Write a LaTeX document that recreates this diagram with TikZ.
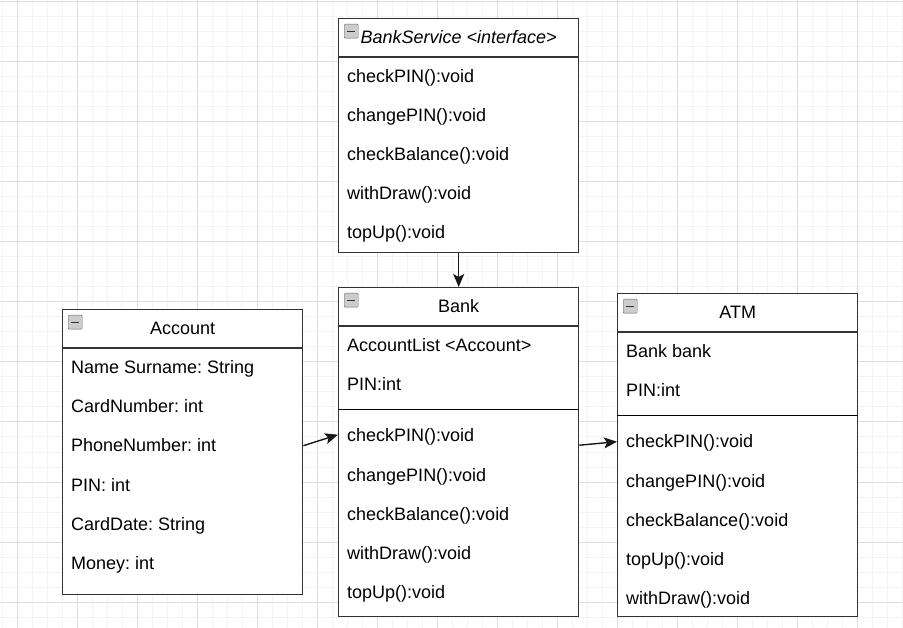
\documentclass[tikz,border=0pt]{standalone}
\usepackage{fontspec}
\setmainfont{Liberation Sans}
\usetikzlibrary{arrows.meta,calc}
\frenchspacing
\definecolor{boxc}{HTML}{333333}
\definecolor{gmaj}{HTML}{DEDEDE}
\definecolor{gmin}{HTML}{F4F4F4}
\tikzset{
 classbox/.style={draw=boxc, line width=1.4pt, fill=white, inner sep=0pt, anchor=north west},
 hdrline/.style={draw=boxc, line width=1.4pt},
 sepline/.style={draw=black, line width=1pt},
 rowtxt/.style={anchor=west, inner sep=0pt, text height=16.8pt, text depth=3.8pt, font=\fontsize{18}{21}\selectfont},
 titletxt/.style={inner sep=0pt, text height=16.8pt, text depth=3.8pt, font=\fontsize{18}{21}\selectfont},
 collapseicon/.style={draw=gray!80!black, fill=gray!40, rounded corners=1pt, minimum size=14pt, inner sep=0pt, anchor=north west},
 arr/.style={draw=black!90, line width=1.4pt, -{Stealth[length=13pt,width=11pt,inset=3pt]}},
 gridminor/.style={draw=gmin, line width=1pt},
 gridmajor/.style={draw=gmaj, line width=1pt},
}
\begin{document}
\begin{tikzpicture}[x=1pt,y=-1pt]
\useasboundingbox (0,0) rectangle (903,628);
\fill[white] (0,0) rectangle (903,628);
% grid
\foreach \v in {2,17,...,902} \draw[gridminor] (\v,0) -- (\v,628);
\foreach \v in {2,17,...,627} \draw[gridminor] (0,\v) -- (903,\v);
\foreach \v in {17,77,...,902} \draw[gridmajor] (\v,0) -- (\v,628);
\foreach \v in {2,62,...,627} \draw[gridmajor] (0,\v) -- (903,\v);

% ---------- BankService ----------
\node[classbox, minimum width=240pt, minimum height=234pt] (bs) at (338,18) {};
\draw[hdrline] ($(bs.north west)+(0,39)$) -- ($(bs.north east)+(0,39)$);
\node[collapseicon] (bsicon) at ($(bs.north west)+(6,6)$) {};
\draw[black!80, line width=1.3pt] ($(bsicon.west)+(3,0)$) -- ($(bsicon.east)+(-3,0)$);
\node[titletxt, font=\fontsize{18}{21}\selectfont\itshape] (bstitle) at ($(bs.north)+(0,19.5)$) {BankService <interface>};
\node[rowtxt] (bs1) at (347,76.5) {checkPIN():void};
\node[rowtxt] (bs2) at (347,115.5) {changePIN():void};
\node[rowtxt] (bs3) at (347,154.5) {checkBalance():void};
\node[rowtxt] (bs4) at (347,193.5) {withDraw():void};
\node[rowtxt] (bs5) at (347,232.5) {topUp():void};

% ---------- Account ----------
\node[classbox, minimum width=240pt, minimum height=285pt] (acc) at (62,309) {};
\draw[hdrline] ($(acc.north west)+(0,39)$) -- ($(acc.north east)+(0,39)$);
\node[collapseicon] (accicon) at ($(acc.north west)+(6,6)$) {};
\draw[black!80, line width=1.3pt] ($(accicon.west)+(3,0)$) -- ($(accicon.east)+(-3,0)$);
\node[titletxt] (acctitle) at ($(acc.north)+(0,19.5)$) {Account};
\node[rowtxt] (acc1) at (71,367.5) {Name Surname: String};
\node[rowtxt] (acc2) at (71,406.5) {CardNumber: int};
\node[rowtxt] (acc3) at (71,445.5) {PhoneNumber: int};
\node[rowtxt] (acc4) at (71,484.5) {PIN: int};
\node[rowtxt] (acc5) at (71,523.5) {CardDate: String};
\node[rowtxt] (acc6) at (71,562.5) {Money: int};

% ---------- Bank ----------
\node[classbox, minimum width=240pt, minimum height=329pt] (bank) at (338,287) {};
\draw[hdrline] ($(bank.north west)+(0,39)$) -- ($(bank.north east)+(0,39)$);
\node[collapseicon] (bankicon) at ($(bank.north west)+(6,6)$) {};
\draw[black!80, line width=1.3pt] ($(bankicon.west)+(3,0)$) -- ($(bankicon.east)+(-3,0)$);
\node[titletxt] (banktitle) at ($(bank.north)+(0,19.5)$) {Bank};
\node[rowtxt] (banka1) at (347,345.5) {AccountList <Account>};
\node[rowtxt] (banka2) at (347,384.5) {PIN:int};
\draw[sepline] ($(bank.north west)+(0,123)$) -- ($(bank.north east)+(0,123)$);
\node[rowtxt] (bankm1) at (347,435.5) {checkPIN():void};
\node[rowtxt] (bankm2) at (347,474.5) {changePIN():void};
\node[rowtxt] (bankm3) at (347,513.5) {checkBalance():void};
\node[rowtxt] (bankm4) at (347,552.5) {withDraw():void};
\node[rowtxt] (bankm5) at (347,591.5) {topUp():void};

% ---------- ATM ----------
\node[classbox, minimum width=240pt, minimum height=323pt] (atm) at (617,293) {};
\draw[hdrline] ($(atm.north west)+(0,39)$) -- ($(atm.north east)+(0,39)$);
\node[collapseicon] (atmicon) at ($(atm.north west)+(6,6)$) {};
\draw[black!80, line width=1.3pt] ($(atmicon.west)+(3,0)$) -- ($(atmicon.east)+(-3,0)$);
\node[titletxt] (atmtitle) at ($(atm.north)+(0,19.5)$) {ATM};
\node[rowtxt] (atma1) at (626,351.5) {Bank bank};
\node[rowtxt] (atma2) at (626,390.5) {PIN:int};
\draw[sepline] ($(atm.north west)+(0,123)$) -- ($(atm.north east)+(0,123)$);
\node[rowtxt] (atmm1) at (626,441.5) {checkPIN():void};
\node[rowtxt] (atmm2) at (626,480.5) {changePIN():void};
\node[rowtxt] (atmm3) at (626,519.5) {checkBalance():void};
\node[rowtxt] (atmm4) at (626,558.5) {topUp():void};
\node[rowtxt] (atmm5) at (626,597.5) {withDraw():void};

% ---------- connectors ----------
\draw[arr] (bs.south) -- (bank.north);
\draw[arr] ([yshift=6.5pt]acc.east) -- ([yshift=17.5pt]bank.west);
\draw[arr] ([yshift=7pt]bank.east) -- ([yshift=13.5pt]atm.west);
\end{tikzpicture}
\end{document}
